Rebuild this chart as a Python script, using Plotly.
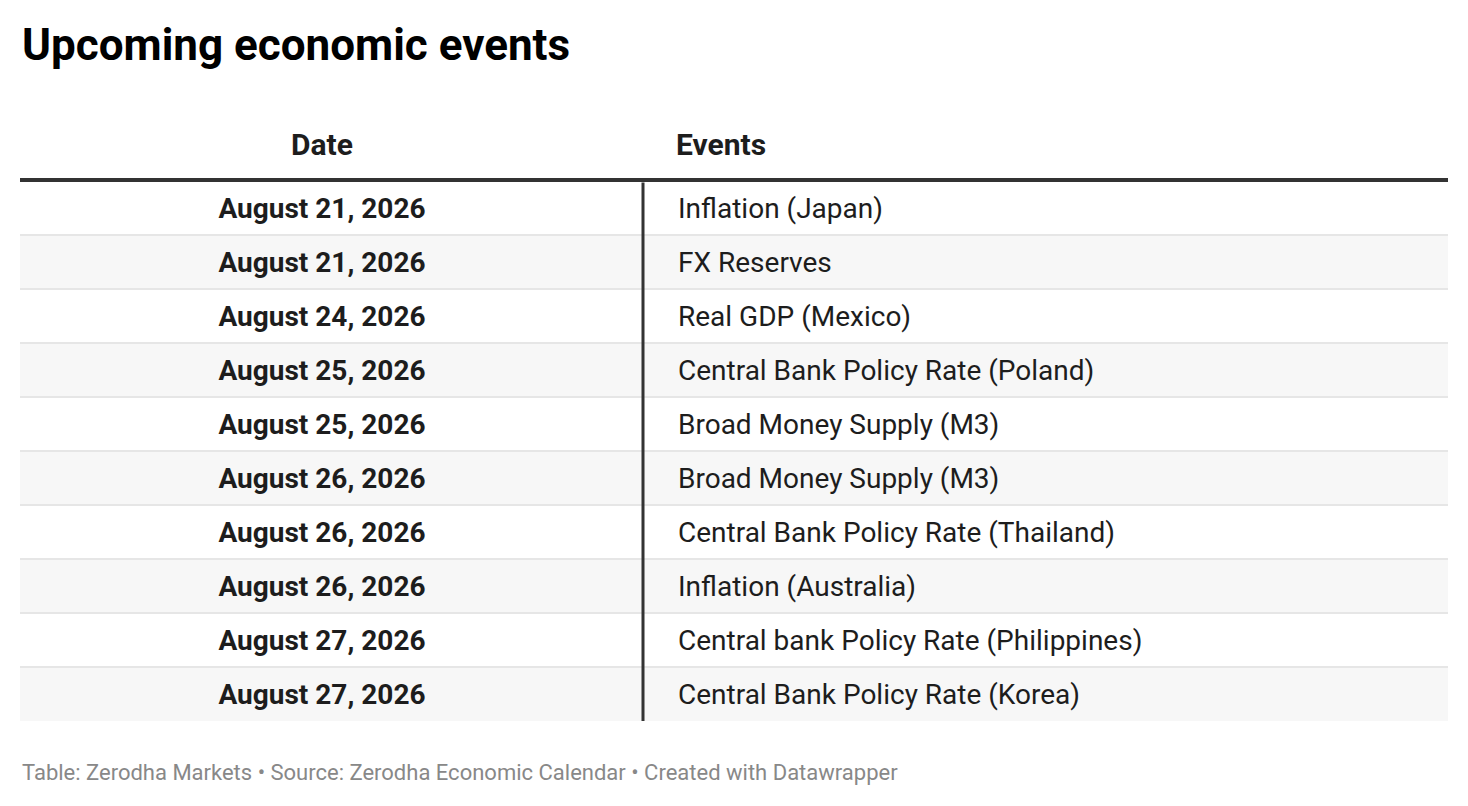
import plotly.graph_objects as go

TITLE = "Upcoming economic events"
HEADERS = ["Date", "Events"]
DATES = [
    "August 21, 2026",
    "August 21, 2026",
    "August 24, 2026",
    "August 25, 2026",
    "August 25, 2026",
    "August 26, 2026",
    "August 26, 2026",
    "August 26, 2026",
    "August 27, 2026",
    "August 27, 2026",
]
EVENTS = [
    "Inflation (Japan)",
    "FX Reserves",
    "Real GDP (Mexico)",
    "Central Bank Policy Rate (Poland)",
    "Broad Money Supply (M3)",
    "Broad Money Supply (M3)",
    "Central Bank Policy Rate (Thailand)",
    "Inflation (Australia)",
    "Central bank Policy Rate (Philippines)",
    "Central Bank Policy Rate (Korea)",
]
FOOTER = "Table: Zerodha Markets • Source: Zerodha Economic Calendar • Created with Datawrapper"

# page body adds an 8px offset, so margins are trimmed by that amount
OFF = 8
TABLE_W = 1428
ROW_H = 54
n = len(DATES)
PLOT_H = ROW_H * n
ML, MR, MT, MB = 20 - OFF, 12, 181 - OFF, 80
W = ML + TABLE_W + MR
H = MT + PLOT_H + MB

DATE_X = 302      # centre of date column (px from table left)
SPLIT_X = 623     # vertical divider
EVENT_X = 658     # left edge of event text
DY = 0.055        # nudge text down inside each row (fraction of a row)

TEXT = "#1d1d1d"
FONT = "Roboto"

rows = list(range(n))


def py(page_y):
    # page pixel y -> paper coordinate
    return 1 - (page_y - OFF - MT) / PLOT_H


fig = go.Figure()

fig.add_trace(go.Scatter(
    x=[DATE_X] * n,
    y=rows,
    mode="text",
    text=DATES,
    textposition="middle center",
    textfont=dict(family=FONT, size=28, color=TEXT, weight=700),
    hoverinfo="skip",
    showlegend=False,
))

fig.add_trace(go.Scatter(
    x=[EVENT_X] * n,
    y=rows,
    mode="text",
    text=EVENTS,
    textposition="middle right",
    textfont=dict(family=FONT, size=28, color=TEXT),
    hoverinfo="skip",
    showlegend=False,
))

top, bottom = -0.5 - DY, n - 0.5 - DY

shapes = []
# zebra rows
for i in rows:
    if i % 2 == 1:
        shapes.append(dict(
            type="rect", xref="x", yref="y", layer="below",
            x0=0, x1=TABLE_W, y0=i - 0.5 - DY, y1=i + 0.5 - DY,
            fillcolor="#f7f7f7", line=dict(width=0),
        ))
# row separators
for i in rows[:-1]:
    shapes.append(dict(
        type="line", xref="x", yref="y", layer="below",
        x0=0, x1=TABLE_W, y0=i + 0.5 - DY, y1=i + 0.5 - DY,
        line=dict(color="#e6e6e6", width=2),
    ))
# header rule (paper ref so it is not clipped by the plot area)
shapes.append(dict(
    type="line", xref="paper", yref="paper",
    x0=0, x1=1, y0=py(180), y1=py(180),
    line=dict(color="#333333", width=4),
))
# column divider
shapes.append(dict(
    type="line", xref="x", yref="y",
    x0=SPLIT_X, x1=SPLIT_X, y0=top + 0.03, y1=bottom,
    line=dict(color="#333333", width=3),
))

annotations = [
    dict(
        text=HEADERS[0], xref="x", yref="paper", x=DATE_X, y=py(144),
        xanchor="center", yanchor="middle", showarrow=False,
        font=dict(family=FONT, size=30, color=TEXT, weight=700),
    ),
    dict(
        text=HEADERS[1], xref="x", yref="paper", x=EVENT_X - 4, y=py(144),
        xanchor="left", yanchor="middle", showarrow=False,
        font=dict(family=FONT, size=30, color=TEXT, weight=700),
    ),
    dict(
        text=TITLE, xref="paper", yref="paper", x=0, y=py(45),
        xanchor="left", yanchor="middle", showarrow=False,
        font=dict(family=FONT, size=44, color="#000000", weight=700),
    ),
    dict(
        text=FOOTER, xref="paper", yref="paper", x=0, y=py(772),
        xanchor="left", yanchor="middle", showarrow=False,
        font=dict(family=FONT, size=22, color="#888888"),
    ),
]

fig.update_xaxes(visible=False, range=[0, TABLE_W], fixedrange=True)
fig.update_yaxes(visible=False, range=[bottom, top], fixedrange=True)

fig.update_layout(
    width=W,
    height=H,
    margin=dict(l=ML, r=MR, t=MT, b=MB, pad=0),
    paper_bgcolor="white",
    plot_bgcolor="white",
    shapes=shapes,
    annotations=annotations,
    showlegend=False,
)

fig.write_html("out.html", config={"displayModeBar": False})
